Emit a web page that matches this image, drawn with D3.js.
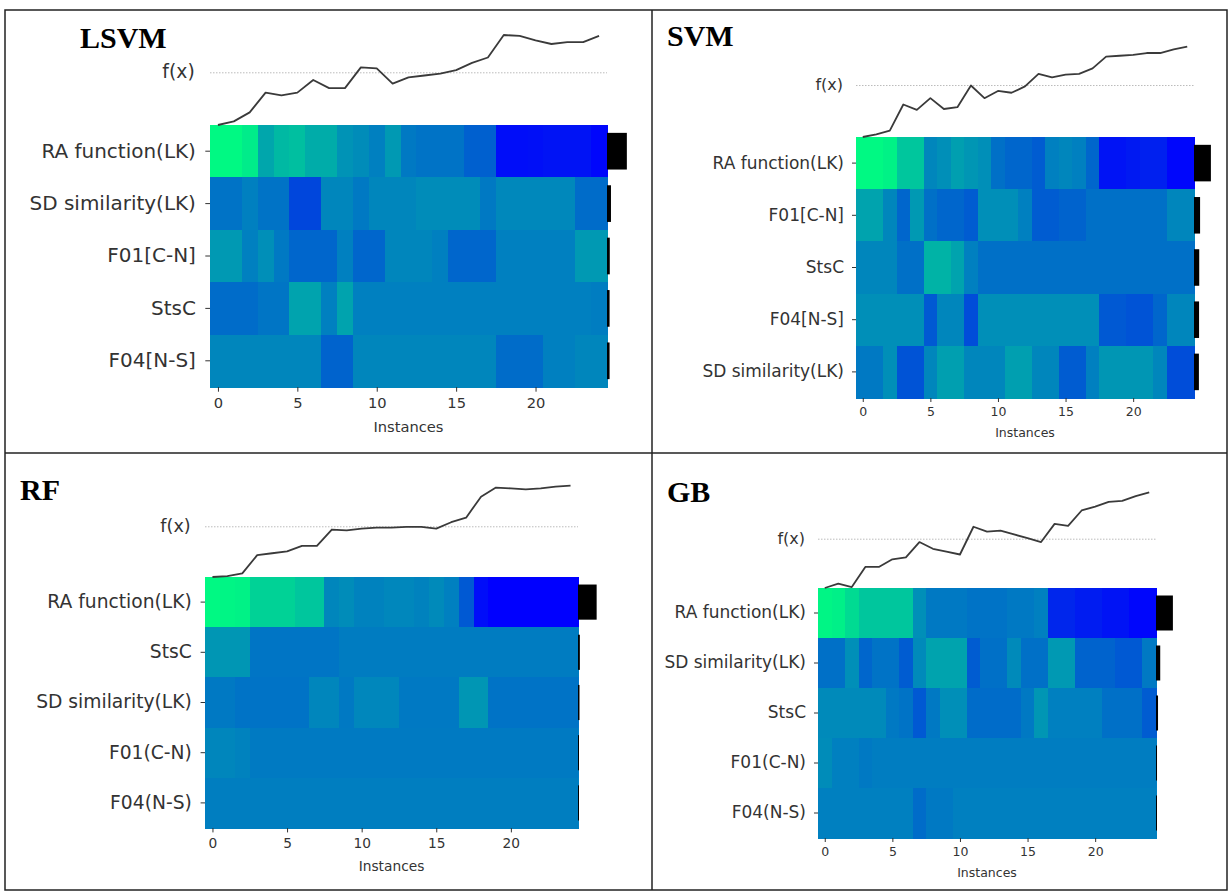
<!DOCTYPE html>
<html lang="en">
<head>
  <meta charset="UTF-8">
  <title>SHAP heatmaps: LSVM, SVM, RF, GB</title>
  <script src="https://d3js.org/d3.v7.min.js"></script>
  <style>
    body { margin: 0; background: #fff; }
    svg { display: block; }
    .title { font-family: "Liberation Serif", "Times New Roman", serif; font-weight: bold; fill: #000; }
    .lbl { font-family: "DejaVu Sans", sans-serif; fill: #333; }
  </style>
</head>
<body>
  <svg width="1229" height="891"></svg>

  <script>
    // ---- data ----
    const instances = d3.range(25);
    const tickValues = [0, 5, 10, 15, 20];

    const lsvmFeatures = ["RA function(LK)", "SD similarity(LK)", "F01[C-N]", "StsC", "F04[N-S]"];
    const lsvmShap = [
      [0.95, 0.95, 0.85, 0.3, 0.45, 0.5, 0.35, 0.35, 0.15, 0.1, 0.0, 0.2, -0.05, -0.1, -0.1, -0.1, -0.25, -0.25, -0.9, -0.9, -0.88, -0.85, -0.85, -0.85, -0.95],
      [-0.1, -0.1, 0, -0.1, -0.1, -0.45, -0.45, 0.05, 0.05, -0.05, 0.05, 0.05, 0.05, 0.1, 0.1, 0.1, 0.1, -0.05, 0.07, 0.07, 0.07, 0.07, 0.07, -0.15, -0.15],
      [0.2, 0.2, 0, 0.12, -0.05, -0.2, -0.2, -0.2, 0, -0.2, -0.2, 0.05, 0.05, 0.05, 0, -0.2, -0.2, -0.2, 0, 0, 0, 0, 0, 0.2, 0.2],
      [-0.15, -0.15, -0.15, -0.08, -0.08, 0.28, 0.28, 0, 0.28, 0, 0, 0, 0, 0, 0, 0, 0, 0, 0, 0, 0, 0, 0, 0, -0.02],
      [0.05, 0.05, 0.05, 0.05, 0.05, 0.05, 0.05, -0.22, -0.22, 0.05, 0.05, 0.05, 0.05, 0.05, 0.05, 0.05, 0.05, 0.05, -0.15, -0.15, -0.15, 0, 0, 0.05, 0.05]
    ];
    const lsvmImportance = [1.0, 0.2, 0.14, 0.13, 0.13];
    const lsvmFx = [0, 0.04, 0.14, 0.36, 0.33, 0.36, 0.5, 0.41, 0.41, 0.64, 0.63, 0.46, 0.53, 0.55, 0.57, 0.61, 0.69, 0.75, 1.0, 0.99, 0.94, 0.9, 0.92, 0.92, 0.99];
    const lsvmBase = 0.58;

    const svmFeatures = ["RA function(LK)", "F01[C-N]", "StsC", "F04[N-S]", "SD similarity(LK)"];
    const svmShap = [
      [0.95, 0.95, 0.9, 0.55, 0.55, 0.05, 0.12, 0.25, 0.18, 0.12, -0.12, -0.2, -0.2, -0.28, 0, 0.05, 0, -0.2, -0.85, -0.85, -0.8, -0.75, -0.75, -0.95, -0.95],
      [0.28, 0.28, 0.05, -0.2, 0.2, -0.12, -0.2, -0.2, -0.28, 0.12, 0.12, 0.12, 0, -0.28, -0.28, -0.22, -0.22, -0.12, -0.12, -0.12, -0.12, -0.12, -0.12, 0.05, 0.05],
      [0.05, 0.05, 0.05, -0.12, -0.12, 0.4, 0.4, 0.28, 0, -0.12, -0.12, -0.12, -0.12, -0.12, -0.12, -0.12, -0.12, -0.12, -0.12, -0.12, -0.12, -0.12, -0.12, -0.12, -0.12],
      [0.12, 0.12, 0.12, 0.12, 0.12, -0.3, 0.05, 0.05, -0.4, 0.12, 0.12, 0.12, 0.12, 0.12, 0.12, 0.12, 0.12, 0.12, -0.3, -0.3, -0.35, -0.35, -0.2, 0.05, 0.05],
      [-0.05, -0.05, 0.12, -0.35, -0.35, 0.05, 0.25, 0.25, 0.05, 0.05, 0.05, 0.25, 0.25, 0.05, 0.05, -0.28, -0.28, 0, 0.18, 0.18, 0.18, 0.18, 0.05, -0.4, -0.4]
    ];
    const svmImportance = [1.0, 0.36, 0.31, 0.3, 0.29];
    const svmFx = [0, 0.03, 0.07, 0.36, 0.3, 0.43, 0.31, 0.33, 0.57, 0.43, 0.51, 0.49, 0.56, 0.7, 0.66, 0.69, 0.7, 0.76, 0.89, 0.9, 0.91, 0.93, 0.93, 0.97, 1.0];
    const svmBase = 0.57;

    const rfFeatures = ["RA function(LK)", "StsC", "SD similarity(LK)", "F01(C-N)", "F04(N-S)"];
    const rfShap = [
      [0.95, 0.92, 0.9, 0.65, 0.65, 0.65, 0.55, 0.55, 0.05, 0.1, 0.02, 0.02, 0.06, 0.06, 0.02, 0.08, 0, -0.3, -0.9, -1, -1, -1, -1, -1, -1],
      [0.18, 0.18, 0.18, -0.08, -0.08, -0.08, -0.08, -0.08, -0.08, -0.03, -0.03, -0.03, -0.03, -0.03, -0.03, -0.03, -0.03, -0.03, -0.03, -0.03, -0.03, -0.03, -0.03, -0.03, -0.03],
      [-0.05, -0.05, -0.1, -0.1, -0.1, -0.1, -0.1, 0.05, 0.05, -0.05, 0.06, 0.06, 0.06, -0.05, -0.05, -0.05, -0.05, 0.18, 0.18, -0.1, -0.1, -0.1, -0.1, -0.1, -0.1],
      [0.05, 0.05, 0.02, -0.04, -0.04, -0.04, -0.04, -0.04, -0.04, -0.04, -0.04, -0.04, -0.04, -0.04, -0.04, -0.04, -0.04, -0.04, -0.04, -0.04, -0.04, -0.04, -0.04, -0.04, -0.04],
      [-0.01, -0.01, -0.01, -0.01, -0.01, -0.01, -0.01, -0.01, -0.01, -0.01, -0.01, -0.01, -0.01, -0.01, -0.01, -0.01, -0.01, -0.01, -0.01, -0.01, -0.01, -0.01, -0.01, -0.01, -0.01]
    ];
    const rfImportance = [1.0, 0.1, 0.08, 0.05, 0.03];
    const rfFx = [0, 0.01, 0.04, 0.24, 0.26, 0.28, 0.34, 0.34, 0.52, 0.51, 0.53, 0.54, 0.54, 0.55, 0.55, 0.53, 0.6, 0.65, 0.88, 0.98, 0.97, 0.96, 0.97, 0.99, 1.0];
    const rfBase = 0.55;

    const gbFeatures = ["RA function(LK)", "SD similarity(LK)", "StsC", "F01(C-N)", "F04(N-S)"];
    const gbShap = [
      [0.92, 0.88, 0.72, 0.55, 0.55, 0.55, 0.55, 0.12, -0.05, -0.05, -0.05, -0.1, -0.1, -0.1, -0.05, -0.05, 0, -0.7, -0.7, -0.78, -0.78, -0.85, -0.85, -0.95, -0.95],
      [-0.12, -0.12, 0.12, -0.2, -0.1, -0.1, -0.28, 0.08, 0.28, 0.28, 0.28, -0.28, -0.12, -0.12, 0.08, -0.12, -0.12, 0.2, 0.2, -0.22, -0.22, -0.22, -0.3, -0.3, -0.05],
      [0.08, 0.08, 0.08, 0.08, 0.08, -0.05, -0.1, -0.3, -0.05, 0.12, 0.12, -0.15, -0.15, -0.15, -0.15, -0.05, 0.18, 0, 0, 0, 0, -0.12, -0.12, -0.12, -0.28],
      [0.1, 0, 0, -0.05, -0.02, -0.02, -0.02, -0.02, -0.02, -0.02, -0.02, -0.02, -0.02, -0.02, -0.02, -0.02, -0.02, -0.02, -0.02, -0.02, -0.02, -0.02, -0.02, -0.02, -0.02],
      [0, 0, 0, 0, 0, 0, 0, -0.15, -0.05, -0.05, 0, 0, 0, 0, 0, 0, 0, 0, 0, 0, 0, 0, 0, 0, 0]
    ];
    const gbImportance = [1.0, 0.25, 0.12, 0.06, 0.03];
    const gbFx = [0, 0.045, 0.01, 0.22, 0.22, 0.3, 0.32, 0.48, 0.41, 0.38, 0.35, 0.64, 0.59, 0.6, 0.56, 0.52, 0.48, 0.67, 0.65, 0.81, 0.85, 0.9, 0.91, 0.96, 1.0];
    const gbBase = 0.51;

    // ---- layout of the four screenshots ----
    const panels = [
      { title: "LSVM", tx: 80, ty: 48, x0: 210, x1: 607, y0: 125, y1: 387, top: 35, s: 1.175,
        features: lsvmFeatures, shap: lsvmShap, imp: lsvmImportance, fx: lsvmFx, base: lsvmBase },
      { title: "SVM", tx: 667, ty: 46, x0: 856, x1: 1194, y0: 137, y1: 398, top: 46.7, s: 1.0,
        features: svmFeatures, shap: svmShap, imp: svmImportance, fx: svmFx, base: svmBase },
      { title: "RF", tx: 20, ty: 500, x0: 205, x1: 578, y0: 577, y1: 828, top: 485.7, s: 1.1,
        features: rfFeatures, shap: rfShap, imp: rfImportance, fx: rfFx, base: rfBase },
      { title: "GB", tx: 667, ty: 502, x0: 818, x1: 1156, y0: 588, y1: 838, top: 492.3, s: 1.0,
        features: gbFeatures, shap: gbShap, imp: gbImportance, fx: gbFx, base: gbBase }
    ];

    const svg = d3.select("svg");
    // matplotlib "winter"-like map: blue -> green
    const color = d3.scaleLinear().domain([-1, 1]).range(["#0000ff", "#00ff80"]);

    function drawPanel(p) {
      const g = svg.append("g");
      const s = p.s;

      const x = d3.scaleLinear().domain([-0.5, instances.length - 0.5]).range([p.x0, p.x1]);
      const y = d3.scaleBand().domain(p.features).range([p.y0, p.y1]);

      // heatmap cells (snapped to whole pixels so no seams show)
      p.features.forEach((f, r) => {
        g.selectAll(null)
          .data(instances)
          .enter().append("rect")
          .attr("shape-rendering", "crispEdges")
          .attr("x", i => Math.round(x(i - 0.5)))
          .attr("y", Math.round(y(f)))
          .attr("width", i => Math.round(x(i + 0.5)) - Math.round(x(i - 0.5)) + 1)
          .attr("height", Math.round(y(f) + y.bandwidth()) - Math.round(y(f)) + 1)
          .attr("fill", i => color(p.shap[r][i]));
      });

      // mean |shap| bars on the right
      const bx = d3.scaleLinear().domain([0, 1]).range([0, 0.05 * (p.x1 - p.x0)]);
      g.selectAll(".bar")
        .data(p.features)
        .enter().append("rect")
        .attr("x", p.x1)
        .attr("y", f => y(f) + y.bandwidth() * 0.15)
        .attr("width", (f, i) => Math.max(1, bx(p.imp[i])))
        .attr("height", y.bandwidth() * 0.7)
        .attr("fill", "#000");

      // y axis (feature names)
      const yAxis = g.append("g")
        .attr("transform", `translate(${p.x0},0)`)
        .call(d3.axisLeft(y).tickSize(4 * s).tickPadding(8 * s));
      yAxis.select(".domain").remove();
      yAxis.selectAll("line").attr("stroke", "#333");
      yAxis.selectAll("text").attr("class", "lbl").style("font-size", (17 * s) + "px").attr("fill", "#333");

      // x axis
      const xAxis = g.append("g")
        .attr("transform", `translate(0,${p.y1})`)
        .call(d3.axisBottom(x).tickValues(tickValues).tickSize(4 * s).tickPadding(5 * s));
      xAxis.select(".domain").remove();
      xAxis.selectAll("line").attr("stroke", "#333");
      xAxis.selectAll("text").attr("class", "lbl").style("font-size", (12.5 * s) + "px").attr("fill", "#333");

      g.append("text")
        .attr("class", "lbl")
        .attr("x", (p.x0 + p.x1) / 2)
        .attr("y", p.y1 + 35 * s)
        .attr("text-anchor", "middle")
        .attr("dominant-baseline", "middle")
        .style("font-size", (12.5 * s) + "px")
        .text("Instances");

      // f(x) line above the heatmap
      const fy = d3.scaleLinear().domain(d3.extent(p.fx)).range([p.y0, p.top]);
      g.append("line")
        .attr("x1", p.x0).attr("x2", p.x1)
        .attr("y1", fy(p.base)).attr("y2", fy(p.base))
        .attr("stroke", "#bbb")
        .attr("stroke-width", 1)
        .attr("stroke-dasharray", "1.5,1.5");

      g.append("path")
        .datum(p.fx)
        .attr("fill", "none")
        .attr("stroke", "#3a3a3a")
        .attr("stroke-width", 1.8)
        .attr("stroke-linejoin", "round")
        .attr("d", d3.line().x((d, i) => x(i)).y(d => fy(d)));

      g.append("text")
        .attr("class", "lbl")
        .attr("x", p.x0 - 13 * s)
        .attr("y", fy(p.base))
        .attr("text-anchor", "end")
        .attr("dominant-baseline", "middle")
        .style("font-size", (16 * s) + "px")
        .text("f(x)");

      // model name
      svg.append("text")
        .attr("class", "title")
        .attr("x", p.tx)
        .attr("y", p.ty)
        .style("font-size", "30px")
        .text(p.title);
    }

    panels.forEach(drawPanel);

    // frame of the 2x2 grid
    const frame = svg.append("g").attr("stroke", "#222").attr("stroke-width", 1.5).attr("fill", "none");
    frame.append("rect").attr("x", 5).attr("y", 10).attr("width", 1222).attr("height", 880);
    frame.append("line").attr("x1", 652).attr("x2", 652).attr("y1", 10).attr("y2", 890);
    frame.append("line").attr("x1", 5).attr("x2", 1227).attr("y1", 453).attr("y2", 453);
  </script>
</body>
</html>
